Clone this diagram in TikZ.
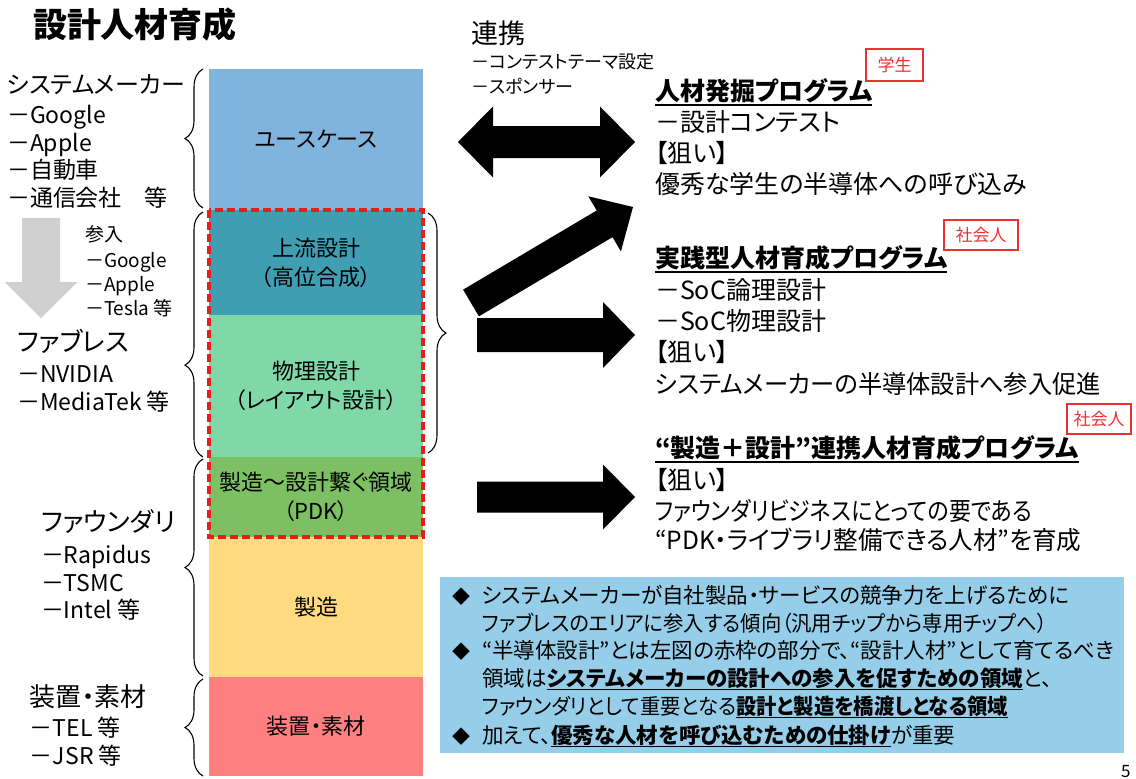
\documentclass[tikz,border=0pt]{standalone}
\usepackage{fontspec}
\usepackage{graphicx}
\setmainfont{Noto Sans CJK JP}[RawFeature={+palt}]
\usetikzlibrary{calc,decorations.pathreplacing}
\definecolor{cUse}{RGB}{128,180,221}
\definecolor{cUp}{RGB}{64,158,178}
\definecolor{cPh}{RGB}{128,216,168}
\definecolor{cPdk}{RGB}{125,192,100}
\definecolor{cMf}{RGB}{255,218,128}
\definecolor{cEq}{RGB}{255,128,128}
\definecolor{cNote}{RGB}{150,206,234}
\definecolor{cRed}{RGB}{232,28,28}
\definecolor{cTag}{RGB}{235,50,50}
\definecolor{cGrayArr}{RGB}{208,208,208}
\newcommand{\ulb}[1]{\setbox0\hbox{\bfseries #1}\rlap{\rule[-4pt]{\wd0}{1.3pt}}\box0}
% single block arrow: [colour]{tail}{tip}{shaft half}{head half}{head length}
\newcommand{\blockarrow}[6][black]{%
  \coordinate (#2hb) at ($(#3)!#6!(#2)$);
  \fill[#1] ($(#2)!#4!90:(#3)$) -- ($(#2hb)!#4!90:(#3)$) -- ($(#2hb)!#5!90:(#3)$) -- (#3)
    -- ($(#2hb)!#5!-90:(#3)$) -- ($(#2hb)!#4!-90:(#3)$) -- ($(#2)!#4!-90:(#3)$) -- cycle;}
% double block arrow: {A}{B}{shaft half}{head half}{head length}
\newcommand{\dblarrow}[5]{%
  \coordinate (#1ha) at ($(#1)!#5!(#2)$);
  \coordinate (#2hb) at ($(#2)!#5!(#1)$);
  \fill[black] (#1) -- ($(#1ha)!#4!90:(#2)$) -- ($(#1ha)!#3!90:(#2)$) -- ($(#2hb)!#3!90:(#2)$)
    -- ($(#2hb)!#4!90:(#2)$) -- (#2) -- ($(#2hb)!#4!-90:(#2)$) -- ($(#2hb)!#3!-90:(#2)$)
    -- ($(#1ha)!#3!-90:(#2)$) -- ($(#1ha)!#4!-90:(#2)$) -- cycle;}
\begin{document}
\begin{tikzpicture}[x=1pt,y=-1pt,
  every node/.style={inner sep=0pt,outer sep=0pt},
  tx/.style={anchor=base west,font=\fontsize{#1}{#1}\selectfont},
  tb/.style={anchor=base west,font=\fontsize{#1}{#1}\selectfont\bfseries},
  stk/.style={minimum width=214pt,align=center,font=\fontsize{22}{29}\selectfont},
  tag/.style={draw=cTag,line width=1.2pt,text=cTag,font=\fontsize{17}{17}\selectfont},
  brc/.style={decorate,decoration={brace,amplitude=18pt,aspect=#1},line width=1.1pt},
  ul/.style={line width=1.5pt}]
\useasboundingbox (0,0) rectangle (1136,779);
\fill[white] (0,0) rectangle (1136,779);

% title
\node[tb=34] (title) at (33,37) {設計人材育成};

% stack
\node[stk,fill=cUse,minimum height=141pt] (uc) at (316,139.5) {ユースケース};
\node[stk,fill=cUp,minimum height=105pt] (up) at (316,262.5) {上流設計\\（高位合成）};
\node[stk,fill=cPh,minimum height=142pt] (ph) at (316,386) {物理設計\\（レイアウト設計）};
\node[stk,fill=cPdk,minimum height=80pt] (pdk) at (316,497) {製造～設計繋ぐ領域\\（PDK）};
\node[stk,fill=cMf,minimum height=140pt] (mf) at (316,607) {製造};
\node[stk,fill=cEq,minimum height=99pt] (eq) at (316,726.5) {装置・素材};
\draw[cRed,line width=3.2pt,dash pattern=on 8pt off 4pt] (up.north west) rectangle (pdk.south east);

% braces
\coordinate (b1s) at (203,208); \coordinate (b1e) at (203,69);
\coordinate (b2s) at (203,457); \coordinate (b2e) at (203,212);
\coordinate (b3s) at (203,676); \coordinate (b3e) at (203,459);
\coordinate (b4s) at (203,776); \coordinate (b4e) at (203,679);
\coordinate (b5s) at (428,213); \coordinate (b5e) at (428,453);
\draw[brc=0.5] (b1s) -- (b1e);
\draw[brc=0.375] (b2s) -- (b2e);
\draw[brc=0.5] (b3s) -- (b3e);
\draw[brc=0.5] (b4s) -- (b4e);
\draw[brc=0.5] (b5s) -- (b5e);

% left texts
\node[tx=24] (sm) at (7,93) {システムメーカー};
\node[tx=23] (sm1) at (7,123) {－Google};
\node[tx=23] (sm2) at (7,151) {－Apple};
\node[tx=23] (sm3) at (7,178) {－自動車};
\node[tx=23] (sm4) at (7,206) {－通信会社　等};
\coordinate (ga) at (41,218); \coordinate (gb) at (41,318);
\blockarrow[cGrayArr]{ga}{gb}{19pt}{36.5pt}{36pt}
\node[tx=19] (en0) at (85,241) {参入};
\node[tx=19] (en1) at (85,267) {－Google};
\node[tx=19] (en2) at (85,291) {－Apple};
\node[tx=19] (en3) at (85,315) {－Tesla 等};
\node[tx=26] (fb) at (17,351) {ファブレス};
\node[tx=23] (fb1) at (17,382) {－NVIDIA};
\node[tx=23] (fb2) at (17,410) {－MediaTek 等};
\node[tx=26] (fd) at (41,531) {ファウンダリ};
\node[tx=23] (fd1) at (41,563) {－Rapidus};
\node[tx=23] (fd2) at (41,591) {－TSMC};
\node[tx=23] (fd3) at (41,618) {－Intel 等};
\node[tx=26] (eqt) at (30,706) {装置・素材};
\node[tx=23] (eq1) at (30,736) {－TEL 等};
\node[tx=23] (eq2) at (30,764) {－JSR 等};

% arrows
\coordinate (da) at (458,142); \coordinate (db) at (635,142);
\dblarrow{da}{db}{16pt}{35.5pt}{35pt}
\coordinate (ta) at (471,303); \coordinate (tb) at (633,207);
\blockarrow{ta}{tb}{15.5pt}{32pt}{33pt}
\coordinate (ra) at (477,335); \coordinate (rb) at (635,335);
\blockarrow{ra}{rb}{17pt}{33pt}{32pt}
\coordinate (sa) at (477,497); \coordinate (sb) at (635,497);
\blockarrow{sa}{sb}{15.5pt}{32.5pt}{32pt}

% right texts
\node[tx=27] (rk) at (471,43) {連携};
\node[tx=18] (rk1) at (471,68) {－コンテストテーマ設定};
\node[tx=18] (rk2) at (471,93) {－スポンサー};
\node[tag,minimum width=57pt,minimum height=32pt] (tg1) at (894.5,65) {学生};
\node[tb=25] (p1) at (655,100) {人材発掘プログラム};
\draw[ul] ($(p1.base west)+(0,5)$) -- ($(p1.base east)+(0,5)$);
\node[tx=25] (p1a) at (655,131) {－設計コンテスト};
\node[tx=25] (p1b) at (655,162) {【狙い】};
\node[tx=25] (p1c) at (655,193) {優秀な学生の半導体への呼び込み};
\node[tag,minimum width=74pt,minimum height=30pt] (tg2) at (981,235) {社会人};
\node[tb=25] (p2) at (655,267) {実践型人材育成プログラム};
\draw[ul] ($(p2.base west)+(0,5)$) -- ($(p2.base east)+(0,5)$);
\node[tx=25] (p2a) at (655,299) {－SoC論理設計};
\node[tx=25] (p2b) at (655,330) {－SoC物理設計};
\node[tx=25] (p2c) at (655,361) {【狙い】};
\node[tx=25] (p2d) at (655,393) {\scalebox{0.97}[1]{システムメーカーの半導体設計へ参入促進}};
\node[tag,minimum width=64pt,minimum height=30pt] (tg3) at (1099,419) {社会人};
\node[tb=25] (p3) at (655,457) {“製造＋設計”連携人材育成プログラム};
\draw[ul] ($(p3.base west)+(0,5)$) -- ($(p3.base east)+(0,5)$);
\node[tx=25] (p3a) at (655,489) {【狙い】};
\node[tx=25] (p3b) at (655,520) {\scalebox{0.88}[1]{ファウンダリビジネスにとっての要である}};
\node[tx=25] (p3c) at (655,549) {\scalebox{0.985}[1]{“PDK・ライブラリ整備できる人材”を育成}};

% note box
\node[fill=cNote,minimum width=684pt,minimum height=176pt] (note) at (782,665) {};
\node[tx=18] (bu1) at (452,603) {◆};
\node[tx=18] (bu3) at (452,658) {◆};
\node[tx=18] (bu6) at (452,743) {◆};
\node[tx=21.5] (n1) at (482,603) {システムメーカーが自社製品・サービスの競争力を上げるために};
\node[tx=21.5] (n2) at (482,631) {\scalebox{0.945}[1]{ファブレスのエリアに参入する傾向（汎用チップから専用チップへ）}};
\node[tx=21.5] (n3) at (482,658) {“半導体設計”とは左図の赤枠の部分で、“設計人材”として育てるべき};
\node[tx=21.5] (n4) at (482,686) {領域は\ulb{システムメーカーの設計への参入を促すための領域}と、};
\node[tx=21.5] (n5) at (482,714) {\scalebox{0.945}[1]{ファウンダリとして重要となる\ulb{設計と製造を橋渡しとなる領域}}};
\node[tx=21.5] (n6) at (482,743) {加えて、\ulb{優秀な人材を呼び込むための仕掛け}が重要};

\node[tx=17] (pg) at (1121,777) {5};
\end{tikzpicture}
\end{document}
